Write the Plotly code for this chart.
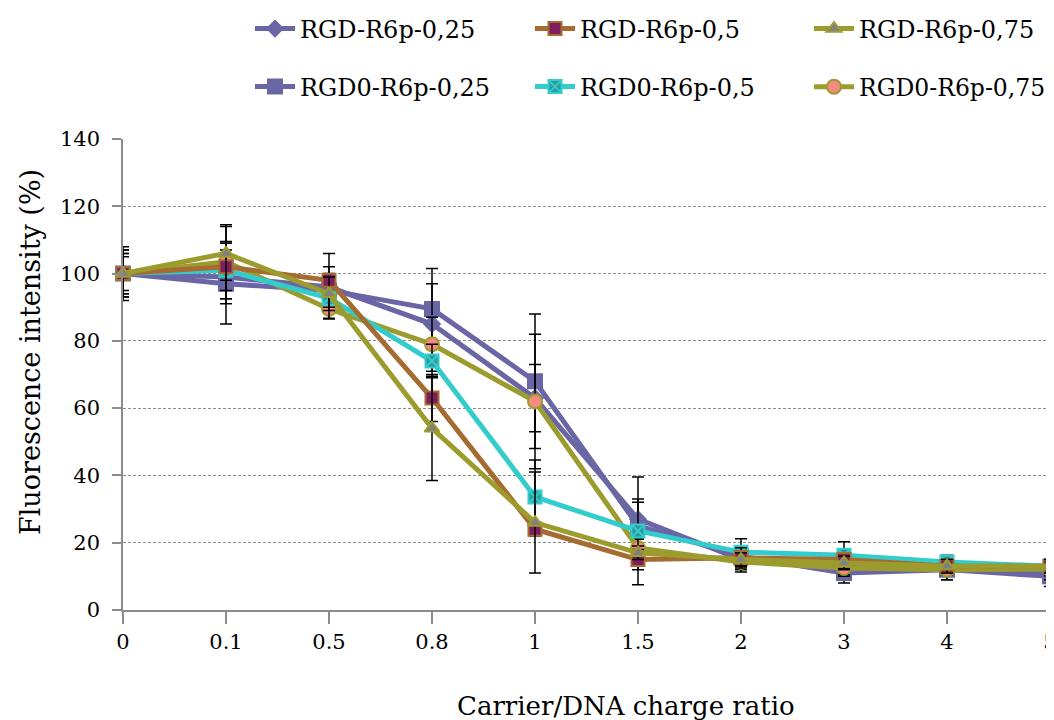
import plotly.graph_objects as go

categories = ["0", "0.1", "0.5", "0.8", "1", "1.5", "2", "3", "4", "5"]

series_names = ["RGD-R6p-0,25", "RGD-R6p-0,5", "RGD-R6p-0,75",
                "RGD0-R6p-0,25", "RGD0-R6p-0,5", "RGD0-R6p-0,75"]

rgd_025 = [100, 99, 96, 85, 63, 27, 15, 13, 12.5, 11]
rgd_05 = [100, 102, 98, 63, 24, 15, 15.5, 15, 13, 13]
rgd_075 = [100, 106, 94, 54, 26, 17, 15, 14, 13, 13]
rgd0_025 = [100, 97, 95, 89.5, 68, 25, 16, 11, 12, 10]
rgd0_05 = [100, 101, 92.7, 74, 33.6, 23.5, 17.2, 16.3, 14.3, 13]
rgd0_075 = [100, 103.5, 89.5, 79, 62, 18.4, 14.3, 12.5, 12, 12.2]

err_rgd_025 = [7, 8, 6, 12, 10, 6, 3, 3, 2, 2]
err_rgd_05 = [6, 7, 8, 7, 2, 3, 3, 2, 2, 2]
err_rgd_075 = [5, 8, 5, 15.5, 15, 2, 2, 2, 2, 2]
err_rgd0_025 = [8, 12, 5, 12, 20, 7, 3, 3, 3, 3]
err_rgd0_05 = [7, 8.5, 6, 5, 11, 16, 4, 4, 2, 2]
err_rgd0_075 = [6, 11, 3, 8, 20, 3, 3, 2, 3, 2]

values = [rgd_025, rgd_05, rgd_075, rgd0_025, rgd0_05, rgd0_075]
errors = [err_rgd_025, err_rgd_05, err_rgd_075, err_rgd0_025, err_rgd0_05, err_rgd0_075]

x_title = "Carrier/DNA charge ratio"
y_title = "Fluorescence intensity (%)"

PURPLE = "#6A66A6"
BROWN = "#A56B30"
OLIVE = "#9C9C2E"
CYAN = "#33CCCC"

styles = [
    dict(line=PURPLE, symbol="diamond", fill=PURPLE, mline=PURPLE, size=12),
    dict(line=BROWN, symbol="square", fill="#7D1E5E", mline=BROWN, size=13),
    dict(line=OLIVE, symbol="triangle-up", fill="#808080", mline=OLIVE, size=13),
    dict(line=PURPLE, symbol="square", fill=PURPLE, mline=PURPLE, size=14),
    dict(line=CYAN, symbol="square-x", fill="#2C9A9A", mline=CYAN, size=13),
    dict(line=OLIVE, symbol="circle", fill="#F58A80", mline=OLIVE, size=14),
]

# page is rendered with an 8px body offset; positions below compensate for it
OFF = 8
legend_px = [(242, 21), (522, 21), (801, 21), (242, 79), (522, 79), (801, 79)]
legend_font = [24, 24, 24, 24, 24, 23.5]

FONT = "DejaVu Serif"
W, H = 1054, 720
L, T, B = 123 - OFF, 139 - OFF, 720 + OFF - 610
plot_w = W - L          # r = 0
plot_h = H - T - B
x_right_px = 1050       # screen x of last category
xmax = 9 * plot_w / (x_right_px - 123)

xpos = list(range(len(categories)))

fig = go.Figure()
draw_order = [3, 0, 5, 4, 1, 2]
for i in draw_order:
    st = styles[i]
    fig.add_trace(go.Scatter(
        x=xpos, y=values[i], name=series_names[i], mode="lines+markers",
        line=dict(color=st["line"], width=5),
        marker=dict(symbol=st["symbol"], size=st["size"], color=st["fill"],
                    line=dict(color=st["mline"], width=2)),
        error_y=dict(type="data", array=errors[i], visible=True,
                     color="black", thickness=1.5, width=6),
        cliponaxis=False,
        legend="legend" if i == 0 else "legend%d" % (i + 1),
    ))

legends = {}
for i, (px, py) in enumerate(legend_px):
    key = "legend" if i == 0 else "legend%d" % (i + 1)
    legends[key] = dict(
        xref="container", yref="container",
        x=px / W, y=1 - py / H, xanchor="left", yanchor="middle",
        orientation="h", font=dict(family=FONT, size=legend_font[i], color="black"),
        bgcolor="rgba(0,0,0,0)", borderwidth=0, itemwidth=40,
    )

axis_gray = "#8C8C8C"
fig.update_layout(
    width=W, height=H,
    margin=dict(l=L, r=0, t=T, b=B),
    paper_bgcolor="white", plot_bgcolor="white",
    font=dict(family=FONT, size=21, color="black"),
    showlegend=True,
    **legends,
    xaxis=dict(
        range=[0, xmax], tickvals=xpos, ticktext=categories,
        showgrid=False, zeroline=False, automargin=False,
        showline=True, linecolor=axis_gray, linewidth=1.5,
        ticks="outside", ticklen=12, tickcolor=axis_gray, tickwidth=1.5,
        tickfont=dict(family=FONT, size=21),
    ),
    yaxis=dict(
        range=[0, 140], tickvals=[0, 20, 40, 60, 80, 100, 120, 140],
        showgrid=True, gridcolor="#8C8C8C", gridwidth=1, griddash="3px,2px",
        zeroline=False, automargin=False,
        showline=True, linecolor=axis_gray, linewidth=1.5,
        ticks="outside", ticklen=9, tickcolor=axis_gray, tickwidth=1.5,
        ticklabelstandoff=8,
        tickfont=dict(family=FONT, size=21),
    ),
    annotations=[
        dict(text=x_title, xref="paper", yref="paper",
             x=(626 - 123) / plot_w, y=(610 - 706) / plot_h,
             xanchor="center", yanchor="middle", showarrow=False,
             font=dict(family=FONT, size=26, color="black")),
        dict(text=y_title, xref="paper", yref="paper", textangle=-90,
             x=(30 - 123) / plot_w, y=(610 - 352) / plot_h,
             xanchor="center", yanchor="middle", showarrow=False,
             font=dict(family=FONT, size=27, color="black")),
    ],
)

fig.write_html("out.html")
